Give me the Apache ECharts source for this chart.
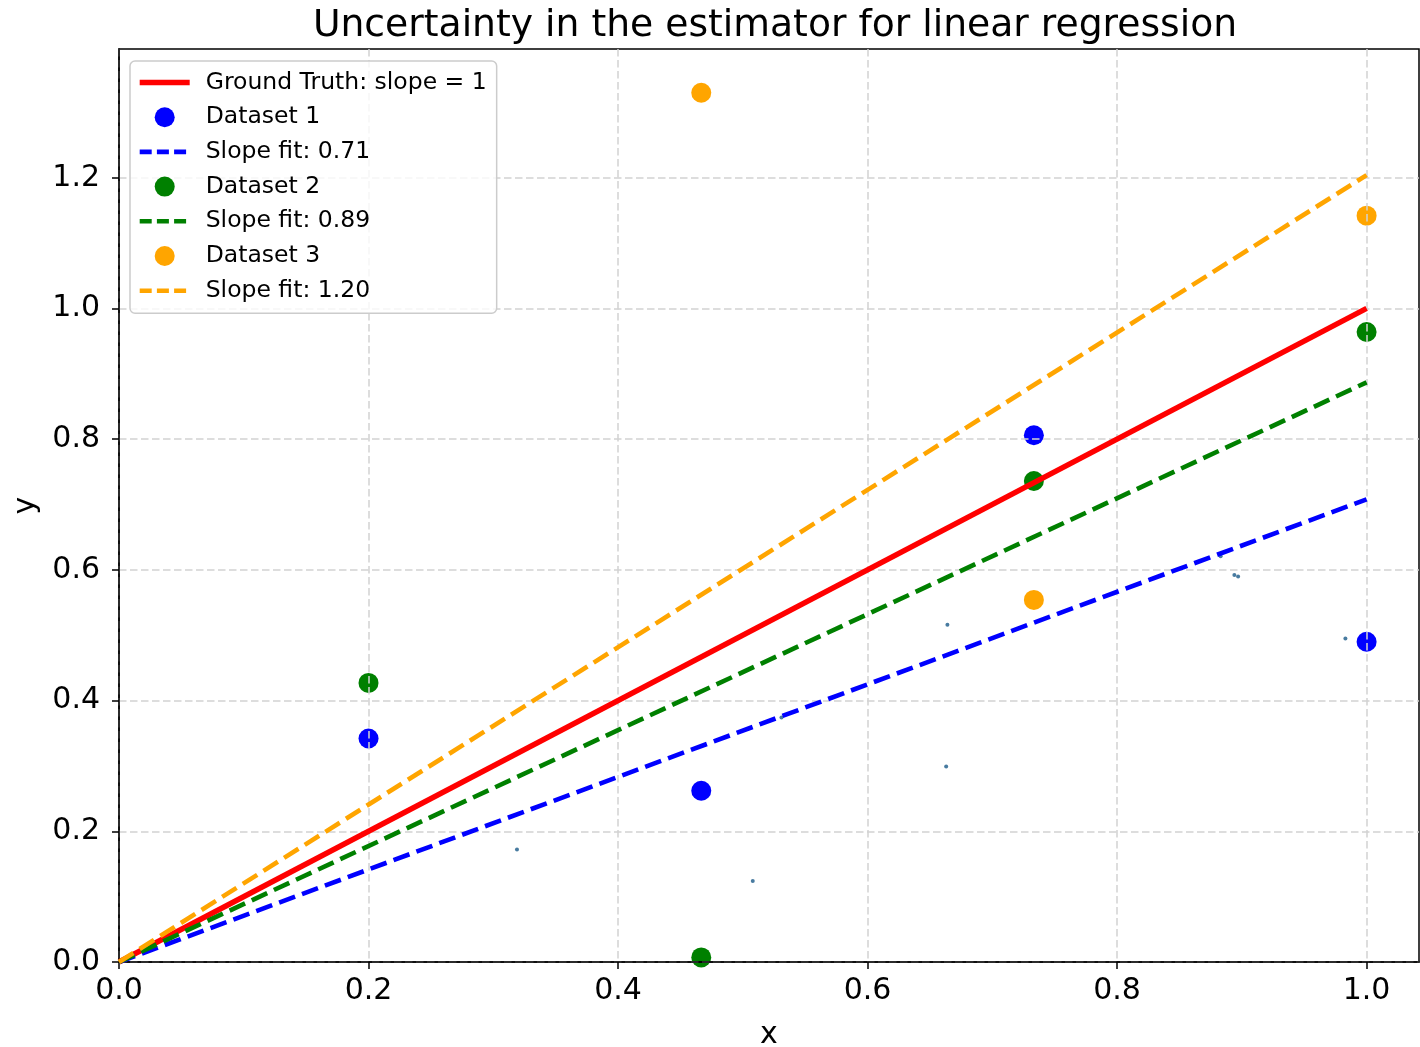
<!DOCTYPE html>
<html>
<head>
<meta charset="utf-8">
<script src="https://cdn.jsdelivr.net/npm/echarts@6/dist/echarts.min.js"></script>
<style>
html,body{margin:0;padding:0;background:#fff;overflow:hidden;}
#chart{width:1420px;height:1047px;}
</style>
</head>
<body>
<div id="chart"></div>
<script>
// ---- data ----
const titleText = 'Uncertainty in the estimator for linear regression';
const dataX = [0.2, 0.4667, 0.7333, 1.0];
const dataset1Y = [0.342, 0.262, 0.806, 0.490];
const dataset2Y = [0.427, 0.007, 0.736, 0.964];
const dataset3Y = [-0.07, 1.330, 0.554, 1.142];
const lineX = [0, 1];
const truthY = [0, 1];
const fit1Y = [0, 0.708];
const fit2Y = [0, 0.887];
const fit3Y = [0, 1.204];
const fitLabels = ['Slope fit: 0.71', 'Slope fit: 0.89', 'Slope fit: 1.20'];
const truthLabel = 'Ground Truth: slope = 1';
const datasetLabels = ['Dataset 1', 'Dataset 2', 'Dataset 3'];
const smallDotsX = [0.319, 0.508, 0.531, 0.664, 0.663, 0.883, 0.894, 0.897, 0.983];
const smallDotsY = [0.172, 0.124, 0.374, 0.516, 0.299, 0.621, 0.592, 0.590, 0.495];
const xTicks = [0, 0.2, 0.4, 0.6, 0.8, 1.0];
const yTicks = [0, 0.2, 0.4, 0.6, 0.8, 1.0, 1.2];
const xRange = [0, 1.042];
const yRange = [0, 1.397];

// ---- helpers ----
const pairs = (xs, ys) => xs.map((x, i) => [x, ys[i]]);
const FONT = 'DejaVu Sans';
const colors = {red: '#ff0000', blue: '#0000ff', green: '#008000', orange: '#ffa500', dot: '#1a5a88'};
const dash = [17, 7.4];

function scatterSeries(name, ys, color) {
  return {
    name: name, type: 'scatter', data: pairs(dataX, ys), symbol: 'circle', symbolSize: 20,
    itemStyle: {color: color, opacity: 1}, z: -1, clip: true, silent: true
  };
}
function lineSeries(name, ys, color, width, type) {
  return {
    name: name, type: 'line', data: pairs(lineX, ys), symbol: 'none', showSymbol: false,
    lineStyle: {color: color, width: width, type: type}, itemStyle: {color: color},
    z: 3, clip: true, silent: true, animation: false
  };
}

const series = [
  lineSeries(truthLabel, truthY, colors.red, 5.4, 'solid'),
  scatterSeries(datasetLabels[0], dataset1Y, colors.blue),
  lineSeries(fitLabels[0], fit1Y, colors.blue, 4.6, dash),
  scatterSeries(datasetLabels[1], dataset2Y, colors.green),
  lineSeries(fitLabels[1], fit2Y, colors.green, 4.6, dash),
  scatterSeries(datasetLabels[2], dataset3Y, colors.orange),
  lineSeries(fitLabels[2], fit3Y, colors.orange, 4.6, dash),
  {
    name: 'points', type: 'scatter', data: pairs(smallDotsX, smallDotsY), symbolSize: 4,
    itemStyle: {color: colors.dot}, z: -1, silent: true
  }
];

function legendLine(name, color, width, type) {
  return {name: name, itemStyle: {opacity: 0}, lineStyle: {color: color, width: width, type: type}};
}
function legendDot(name, color) {
  return {name: name, icon: 'circle', itemStyle: {color: color}};
}

const chart = echarts.init(document.getElementById('chart'), null, {renderer: 'canvas'});
const axisCommon = {
  type: 'value',
  axisLine: {show: true, lineStyle: {color: '#000', width: 1.5}},
  axisTick: {show: true, inside: false, length: 7, lineStyle: {color: '#000', width: 1.5}},
  splitLine: {show: true, lineStyle: {color: '#d2d2d2', width: 1.5, type: [7.5, 3.5]}},
  nameTextStyle: {fontFamily: FONT, fontSize: 30, color: '#000'},
  nameLocation: 'middle'
};
chart.setOption({
  animation: false,
  backgroundColor: '#fff',
  textStyle: {fontFamily: FONT},
  title: {
    text: titleText, left: 770, top: 2, textAlign: 'center',
    textStyle: {fontFamily: FONT, fontSize: 37.7, fontWeight: 'normal', color: '#000'}
  },
  grid: {left: 119, right: 1, top: 49, bottom: 85, show: true, borderColor: '#000', borderWidth: 1.5,
         backgroundColor: 'transparent', containLabel: false, outerBoundsMode: 'none'},
  xAxis: Object.assign({}, axisCommon, {
    min: xRange[0], max: xRange[1], name: 'x', nameGap: 58,
    axisTick: Object.assign({}, axisCommon.axisTick, {customValues: xTicks}),
    axisLabel: {customValues: xTicks, margin: 14, fontFamily: FONT, fontSize: 30, color: '#000', formatter: v => v.toFixed(1)}
  }),
  yAxis: Object.assign({}, axisCommon, {
    min: yRange[0], max: yRange[1], name: 'y', nameGap: 73,
    axisTick: Object.assign({}, axisCommon.axisTick, {customValues: yTicks}),
    axisLabel: {customValues: yTicks, margin: 19, fontFamily: FONT, fontSize: 30, color: '#000', formatter: v => v.toFixed(1)}
  }),
  legend: {
    orient: 'vertical', left: 130, top: 61,
    padding: [9.5, 10, 10.5, 7],
    itemWidth: 50, itemHeight: 20, itemGap: 10.7,
    backgroundColor: 'rgba(255,255,255,0.8)', borderColor: '#cccccc', borderWidth: 1.5, borderRadius: 5,
    selectedMode: false,
    textStyle: {fontFamily: FONT, fontSize: 23.5, lineHeight: 23.5, color: '#000', padding: [0, 0, 0, 11]},
    data: [
      legendLine(truthLabel, colors.red, 5.4, 'solid'),
      legendDot(datasetLabels[0], colors.blue),
      legendLine(fitLabels[0], colors.blue, 4.6, [12, 5.2]),
      legendDot(datasetLabels[1], colors.green),
      legendLine(fitLabels[1], colors.green, 4.6, [12, 5.2]),
      legendDot(datasetLabels[2], colors.orange),
      legendLine(fitLabels[2], colors.orange, 4.6, [12, 5.2])
    ]
  },
  series: series
});
</script>
</body>
</html>
